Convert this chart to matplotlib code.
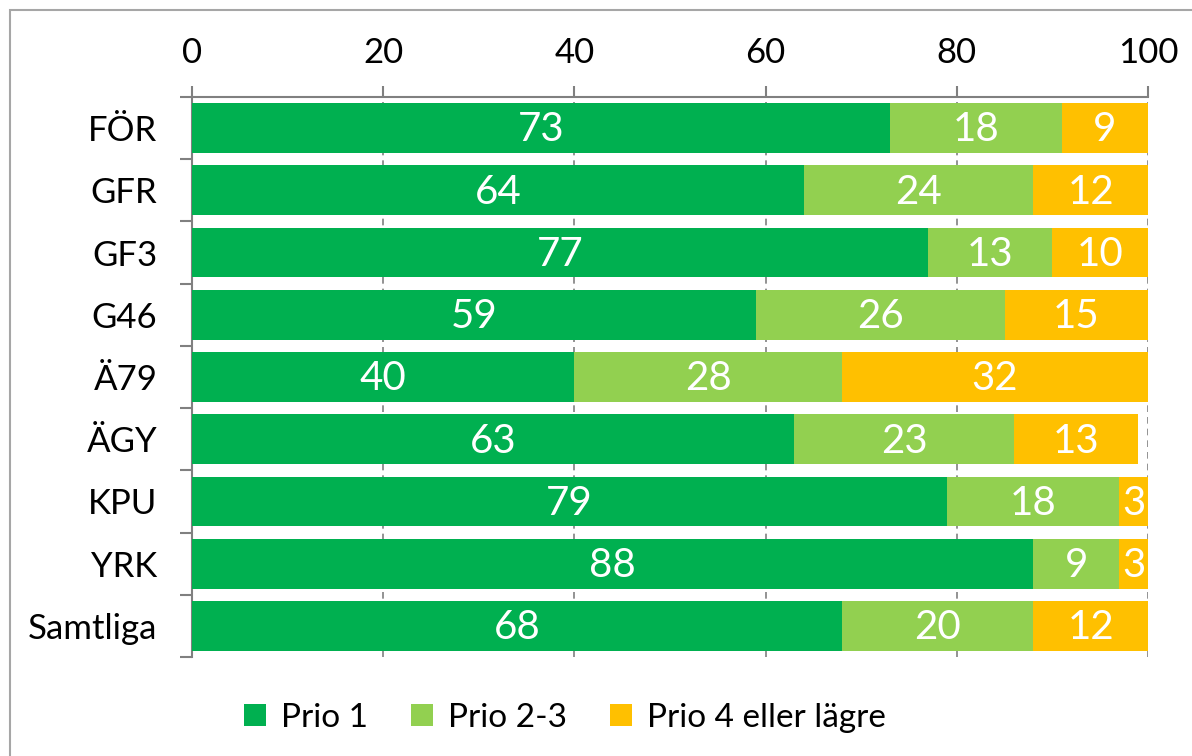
import matplotlib.pyplot as plt
from matplotlib.patches import Rectangle
from matplotlib.ticker import FixedLocator

categories = ['FÖR', 'GFR', 'GF3', 'G46', 'Ä79', 'ÄGY', 'KPU', 'YRK', 'Samtliga']
prio1 = [73, 64, 77, 59, 40, 63, 79, 88, 68]
prio23 = [18, 24, 13, 26, 28, 23, 18, 9, 20]
prio4 = [9, 12, 10, 15, 32, 13, 3, 3, 12]
series_names = ['Prio 1', 'Prio 2-3', 'Prio 4 eller lägre']
colors = ['#00B050', '#92D050', '#FFC000']

plt.rcParams['font.family'] = ['Lato', 'DejaVu Sans']

fig = plt.figure(figsize=(11.92, 7.56), dpi=100)
ax = fig.add_axes([192 / 1192, 1 - 657 / 756, (1148 - 192) / 1192, (657 - 97) / 756])

# outer chart border
fig.patches.append(Rectangle((10 / 1192, -0.05), 1.2, 1 - 10 / 756 + 0.05,
                             transform=fig.transFigure, fill=False,
                             edgecolor='#a6a6a6', linewidth=1.5))

y = list(range(len(categories)))
left = [0] * len(categories)
for vals, name, col in zip([prio1, prio23, prio4], series_names, colors):
    bars = ax.barh(y, vals, left=left, height=0.8, color=col, label=name, zorder=3)
    for b, v in zip(bars, vals):
        ax.text(b.get_x() + b.get_width() / 2, b.get_y() + b.get_height() / 2 + 0.03, str(v),
                ha='center', va='center', color='white', fontsize=29, zorder=4)
    left = [l + v for l, v in zip(left, vals)]

ax.set_xlim(0, 100)
ax.set_ylim(len(categories) - 0.5, -0.5)
ax.xaxis.tick_top()
ax.set_xticks([0, 20, 40, 60, 80, 100])
ax.tick_params(axis='x', direction='out', length=8, width=1.5, color='#808080',
               labelsize=25, pad=12)
ax.set_yticks(y)
ax.set_yticklabels(categories)
ax.tick_params(axis='y', which='major', length=0, labelsize=25, pad=25)
ax.yaxis.set_minor_locator(FixedLocator([i - 0.5 for i in range(len(categories) + 1)]))
ax.tick_params(axis='y', which='minor', length=9, width=1.5, color='#808080')

ax.grid(axis='x', linestyle=(0, (4, 3)), color='#808080', linewidth=1.2, zorder=0)
for s in ['bottom', 'right']:
    ax.spines[s].set_visible(False)
for s in ['top', 'left']:
    ax.spines[s].set_color('#808080')
    ax.spines[s].set_linewidth(1.5)

fig.legend(loc='center', bbox_to_anchor=(565 / 1192, 1 - 718 / 756), ncol=3,
           frameon=False, fontsize=24, handlelength=0.65, handleheight=0.65,
           handletextpad=0.45, columnspacing=1.3)

fig.savefig('out.png', dpi=100)
